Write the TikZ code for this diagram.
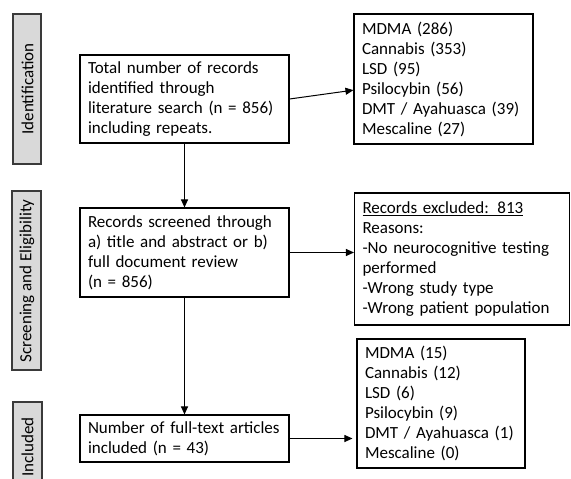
\documentclass[tikz,border=0pt]{standalone}
\usepackage{fontspec}
\setmainfont{Carlito}
\usetikzlibrary{arrows.meta,calc}
\definecolor{barfill}{HTML}{D9D9D9}
\definecolor{barline}{HTML}{3A3A3A}
\begin{document}
\begin{tikzpicture}[x=1pt,y=-1pt,
  every node/.style={font=\fontsize{17}{20}\selectfont},
  box/.style={draw=black,line width=1.1pt,align=left,inner xsep=8pt,inner ysep=0pt,anchor=center},
  bar/.style={draw=barline,fill=barfill,line width=1.1pt},
  bartext/.style={rotate=90,inner sep=0pt},
  arr/.style={line width=1pt,-{Triangle[length=8pt,width=7pt]}}]
\useasboundingbox (0,0) rectangle (571,479);
% side bars
\draw[bar] (13,14) rectangle (41,164);
\node[bartext] (lab1) at (27.5,89) {Identification};
\draw[bar] (12,191) rectangle (41,370);
\node[bartext] (lab2) at (27,281) {Screening and Eligibility};
\draw[bar] (13,402) rectangle (42,492);
\node[bartext] (lab3) at (27.5,447) {Included};
% main boxes
\node[box,text width=193pt,minimum height=88pt] (b1) at (184.5,99)
  {Total number of records\\identified through\\literature search (n = 856)\\including repeats.};
\node[box,text width=193pt,minimum height=89pt] (b2) at (184.5,252.5)
  {Records screened through\\a) title and abstract or b)\\full document review\\(n = 856)};
\node[box,text width=193pt,minimum height=47pt] (b3) at (184.5,438.5)
  {Number of full-text articles\\included (n = 43)};
% right boxes
\node[box,text width=163pt,minimum height=130pt] (r1) at (443.5,79)
  {MDMA (286)\\Cannabis (353)\\LSD (95)\\Psilocybin (56)\\DMT / Ayahuasca (39)\\Mescaline (27)};
\node[box,text width=199pt,minimum height=132pt] (r2) at (462,259)
  {\underline{Records excluded: 813}\\Reasons:\\-No neurocognitive testing\\performed\\-Wrong study type\\-Wrong patient population};
\node[box,text width=152pt,minimum height=129pt] (r3) at (441,403.5)
  {MDMA (15)\\Cannabis (12)\\LSD (6)\\Psilocybin (9)\\DMT / Ayahuasca (1)\\Mescaline (0)};
% connectors
\draw[arr] (b1.east) -- ($(r1.north west)!0.585!(r1.south west)$);
\draw[arr] (b1.south) -- (b2.north);
\draw[arr] (b2.east) -- (b2.east -| r2.west);
\draw[arr] (b2.south) -- (b3.north);
\draw[arr,shorten >=4pt] (b3.east) -- (b3.east -| r3.west);
\end{tikzpicture}
\end{document}
